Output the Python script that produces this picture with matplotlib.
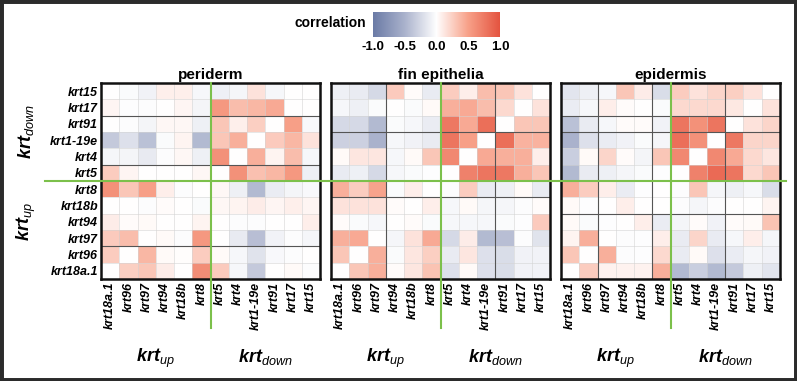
import matplotlib
matplotlib.use("Agg")
import matplotlib.pyplot as plt
import numpy as np
from matplotlib.colors import LinearSegmentedColormap
from matplotlib.lines import Line2D
from matplotlib.patches import Rectangle

plt.rcParams['font.family'] = ['Liberation Sans', 'DejaVu Sans']
plt.rcParams['mathtext.fontset'] = 'custom'
plt.rcParams['mathtext.rm'] = 'Liberation Sans'
plt.rcParams['mathtext.it'] = 'Liberation Sans:italic'
plt.rcParams['mathtext.bf'] = 'Liberation Sans:bold'
plt.rcParams['mathtext.bfit'] = 'Liberation Sans:italic:bold'

# гены: строки сверху вниз, столбцы слева направо
ROWS = ["krt15", "krt17", "krt91", "krt1-19e", "krt4", "krt5",
        "krt8", "krt18b", "krt94", "krt97", "krt96", "krt18a.1"]
COLS = ROWS[::-1]
TITLES = ["periderm", "fin epithelia", "epidermis"]

# корреляции (строки ROWS, столбцы COLS)
PERIDERM = [
    [0.00, -0.03, -0.08, 0.08, 0.08, -0.05, -0.10, -0.06, 0.15, -0.05, 0.00, 0.00],
    [0.05, -0.01, -0.02, 0.00, 0.05, -0.07, 0.55, 0.35, 0.38, 0.45, 0.00, 0.00],
    [0.00, -0.02, -0.07, 0.04, 0.04, -0.10, 0.30, 0.08, 0.25, 0.00, 0.50, -0.04],
    [-0.35, -0.20, -0.40, -0.03, 0.06, -0.45, 0.30, 0.42, 0.00, 0.28, 0.38, 0.15],
    [-0.06, -0.07, -0.14, -0.02, 0.04, -0.10, 0.60, 0.00, 0.42, 0.06, 0.35, -0.05],
    [0.27, 0.05, 0.00, 0.00, 0.00, 0.04, 0.00, 0.60, 0.33, 0.38, 0.55, -0.10],
    [0.60, 0.30, 0.50, 0.09, -0.02, 0.00, 0.04, -0.10, -0.45, -0.12, -0.07, -0.04],
    [0.00, 0.00, -0.02, 0.02, 0.00, -0.03, 0.04, 0.06, 0.10, 0.05, 0.08, 0.05],
    [0.10, 0.02, 0.03, 0.00, 0.00, 0.06, 0.00, -0.02, -0.02, 0.00, 0.00, 0.09],
    [0.28, 0.35, 0.00, 0.03, -0.02, 0.55, 0.00, -0.14, -0.42, -0.08, -0.02, -0.06],
    [0.27, 0.00, 0.38, 0.03, 0.01, 0.27, 0.03, -0.05, -0.18, -0.04, -0.02, 0.00],
    [0.00, 0.25, 0.30, 0.10, 0.00, 0.62, 0.28, -0.05, -0.35, 0.00, 0.03, -0.02],
]
FIN = [
    [-0.10, -0.13, -0.25, 0.28, 0.02, -0.13, 0.27, 0.09, 0.35, 0.30, 0.15, 0.00],
    [-0.05, -0.10, -0.03, 0.00, -0.03, 0.03, 0.42, 0.45, 0.35, 0.20, 0.00, 0.15],
    [-0.25, -0.25, -0.45, -0.03, -0.05, -0.12, 0.75, 0.45, 0.82, 0.00, 0.30, 0.30],
    [-0.30, -0.30, -0.50, -0.05, -0.08, -0.13, 0.78, 0.50, 0.00, 0.82, 0.40, 0.40],
    [0.03, 0.13, 0.13, -0.05, 0.03, 0.30, 0.65, 0.00, 0.45, 0.42, 0.42, 0.09],
    [-0.13, -0.10, -0.25, -0.05, -0.03, -0.01, 0.00, 0.70, 0.78, 0.75, 0.42, 0.30],
    [0.42, 0.27, 0.48, -0.03, 0.09, 0.00, -0.02, 0.27, -0.13, -0.10, 0.03, -0.13],
    [0.15, 0.15, 0.15, 0.02, 0.00, 0.09, -0.05, 0.03, -0.06, -0.06, -0.02, 0.02],
    [0.02, -0.03, -0.05, 0.00, 0.02, -0.03, -0.05, -0.05, -0.05, -0.03, -0.01, 0.28],
    [0.42, 0.45, 0.00, -0.06, 0.15, 0.45, -0.25, 0.10, -0.45, -0.42, -0.02, -0.18],
    [0.30, 0.00, 0.42, -0.03, 0.13, 0.25, -0.13, 0.13, -0.20, -0.22, -0.08, -0.08],
    [0.00, 0.30, 0.42, 0.02, 0.13, 0.32, -0.20, 0.03, -0.20, -0.22, -0.08, -0.08],
]
EPIDERMIS = [
    [-0.17, -0.10, -0.05, 0.30, 0.10, -0.22, 0.27, 0.15, 0.22, 0.25, 0.15, 0.00],
    [-0.12, -0.05, 0.09, 0.02, 0.00, -0.03, 0.20, 0.20, 0.20, 0.12, 0.00, 0.15],
    [-0.40, -0.13, -0.05, 0.02, 0.02, -0.08, 0.78, 0.60, 0.78, 0.00, 0.15, 0.22],
    [-0.50, -0.20, -0.12, -0.08, -0.03, -0.06, 0.82, 0.60, 0.00, 0.75, 0.22, 0.22],
    [-0.32, 0.03, 0.22, 0.02, -0.07, 0.30, 0.65, 0.00, 0.65, 0.45, 0.20, 0.13],
    [-0.45, -0.13, -0.10, -0.06, -0.03, -0.01, 0.00, 0.70, 0.85, 0.78, 0.20, 0.30],
    [0.42, 0.27, 0.09, -0.12, -0.01, 0.00, -0.02, 0.30, -0.06, -0.10, -0.05, -0.22],
    [0.03, -0.01, 0.00, 0.09, 0.00, 0.00, -0.02, -0.06, -0.02, 0.00, 0.00, 0.06],
    [0.03, -0.03, -0.01, 0.00, 0.09, -0.12, -0.07, 0.02, -0.08, 0.02, 0.03, 0.32],
    [0.06, 0.42, 0.00, -0.02, -0.01, 0.09, -0.13, 0.22, -0.13, -0.05, 0.09, -0.06],
    [0.30, 0.00, 0.42, -0.02, -0.01, 0.20, -0.13, 0.03, -0.20, -0.12, -0.06, -0.08],
    [0.00, 0.27, 0.07, 0.07, 0.07, 0.42, -0.45, -0.32, -0.45, -0.35, -0.10, -0.17],
]

# тёмные линии внутри панелей (номера границ): горизонтальные, вертикальные
DARK_H = [[2, 5, 10], [3, 7], [2, 3, 8]]
DARK_V = [[], [3, 9], [2, 5, 9]]

W, H = 797, 381
GREEN = "#7cc04b"
cmap = LinearSegmentedColormap.from_list(
    "corr", ["#6a7aa5", "#aab2cc", "#ffffff", "#f7a088", "#e4533f"])


def px(x0, y0, x1, y1):
    return [x0 / W, 1 - y1 / H, (x1 - x0) / W, (y1 - y0) / H]


fig = plt.figure(figsize=(W / 100, H / 100), dpi=100)

lefts = [101, 331, 561]
PW = 219
TOP, BOT = 83, 279
for k, data in enumerate([PERIDERM, FIN, EPIDERMIS]):
    ax = fig.add_axes(px(lefts[k], TOP, lefts[k] + PW, BOT))
    ax.pcolormesh(np.array(data), cmap=cmap, vmin=-1, vmax=1)
    ax.set_xlim(0, 12)
    ax.set_ylim(12, 0)
    for b in range(1, 12):
        ax.axhline(b, color="#d4d4d4", lw=0.4)
        ax.axvline(b, color="#d4d4d4", lw=0.4)
    for b in DARK_H[k]:
        ax.axhline(b, color="#555555", lw=0.8)
    for b in DARK_V[k]:
        ax.axvline(b, color="#555555", lw=0.8)
    # зелёная вертикаль между krt8 и krt5
    ax.plot([6, 6], [0, 15.0], color=GREEN, lw=1.5, clip_on=False, zorder=5)
    ax.set_xticks(np.arange(12) + 0.5)
    ax.set_xticklabels(COLS, rotation=90, fontsize=9, fontweight="bold",
                       fontstyle="italic")
    ax.set_yticks(np.arange(12) + 0.5)
    if k == 0:
        ax.set_yticklabels(ROWS, fontsize=9, fontweight="bold", fontstyle="italic")
    else:
        ax.set_yticklabels([])
    ax.tick_params(length=0, pad=2)
    for s in ax.spines.values():
        s.set_linewidth(1.8)
        s.set_color("#111111")
    ax.set_title(TITLES[k], fontsize=11, fontweight="bold", pad=3)

    cw = PW / 12
    fig.text((lefts[k] + 3 * cw) / W, 1 - 362 / H, r"$\mathbfit{krt}_{\mathit{up}}$",
             ha="center", va="baseline", fontsize=13)
    fig.text((lefts[k] + 9 * cw) / W, 1 - 362 / H, r"$\mathbfit{krt}_{\mathit{down}}$",
             ha="center", va="baseline", fontsize=13)

# горизонтальная зелёная линия через все панели
fig.add_artist(Line2D([45 / W, 786 / W], [1 - 181 / H] * 2, color=GREEN, lw=1.5))

fig.text(26 / W, 1 - 132 / H, r"$\mathbfit{krt}_{\mathit{down}}$", rotation=90,
         ha="center", va="center", fontsize=13)
fig.text(26 / W, 1 - 222 / H, r"$\mathbfit{krt}_{\mathit{up}}$", rotation=90,
         ha="center", va="center", fontsize=13)

# легенда
cax = fig.add_axes(px(373, 12, 500, 37))
cb = fig.colorbar(plt.cm.ScalarMappable(cmap=cmap, norm=plt.Normalize(-1, 1)),
                  cax=cax, orientation="horizontal")
cb.outline.set_visible(False)
cb.set_ticks([-1.0, -0.5, 0.0, 0.5, 1.0])
cb.set_ticklabels(["-1.0", "-0.5", "0.0", "0.5", "1.0"])
cax.tick_params(length=0, labelsize=9.5, pad=3)
for t in cax.get_xticklabels():
    t.set_fontweight("bold")
fig.text(366 / W, 1 - 23 / H, "correlation", ha="right", va="center",
         fontsize=10, fontweight="bold")

fig.add_artist(Rectangle((0, 0), 1, 1, transform=fig.transFigure, fill=False,
                         edgecolor="#2b2b2b", lw=5))

fig.savefig("out.png", dpi=100)
